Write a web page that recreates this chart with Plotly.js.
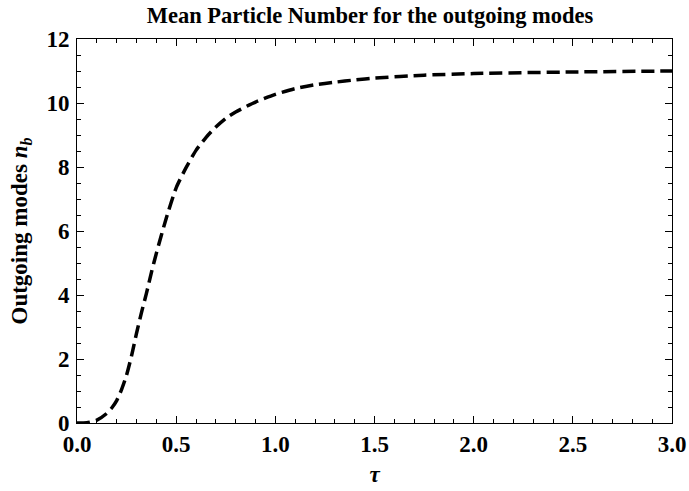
<!DOCTYPE html>
<html>
<head>
<meta charset="utf-8">
<script src="https://cdn.plot.ly/plotly-3.0.1.min.js"></script>
<style>html,body{margin:0;padding:0;background:#fff;}</style>
</head>
<body>
<div id="chart" style="width:689px;height:491px;"></div>
<script>
const tau = [0, 0.05, 0.1, 0.15, 0.175, 0.2, 0.225, 0.25, 0.275, 0.3, 0.325, 0.35, 0.375, 0.4, 0.45, 0.5, 0.55, 0.6, 0.65, 0.7, 0.75, 0.8, 0.9, 1.0, 1.1, 1.2, 1.3, 1.4, 1.5, 1.75, 2.0, 2.5, 3.0];
const nb = [0, 0.01, 0.09, 0.3, 0.47, 0.7, 1.05, 1.5, 2.1, 2.8, 3.45, 4.05, 4.7, 5.3, 6.4, 7.35, 7.98, 8.52, 8.92, 9.25, 9.52, 9.72, 10.03, 10.27, 10.45, 10.57, 10.65, 10.72, 10.78, 10.87, 10.92, 10.97, 11.0];
const xTicks = [0, 0.5, 1.0, 1.5, 2.0, 2.5, 3.0];
const yTicks = [0, 2, 4, 6, 8, 10, 12];

const serif = 'Liberation Serif, Times New Roman, serif';

const trace = {
  x: tau, y: nb, type: 'scatter', mode: 'lines',
  line: {color: '#000', width: 3.5, dash: '13px,6px', shape: 'spline', smoothing: 0.6},
  hoverinfo: 'skip'
};

const axisCommon = {
  showline: true, linecolor: '#000', linewidth: 1, mirror: 'allticks',
  ticks: 'inside', ticklen: 7, tickwidth: 1, tickcolor: '#000',
  showgrid: false, zeroline: false,
  tickfont: {family: serif, size: 23, color: '#000', weight: 'bold'}
};

const layout = {
  width: 689, height: 491,
  margin: {l: 77, r: 17, t: 39, b: 68},
  paper_bgcolor: '#fff', plot_bgcolor: '#fff',
  showlegend: false,
  title: {
    text: 'Mean Particle Number for the outgoing modes',
    font: {family: serif, size: 22.5, color: '#000', weight: 'bold'},
    x: 0.537, xanchor: 'center', y: 0.97, yanchor: 'middle'
  },
  xaxis: Object.assign({}, axisCommon, {
    range: [0, 3], tickvals: xTicks, ticktext: xTicks.map(v => v.toFixed(1)),
    minor: {dtick: 0.1, tick0: 0, ticks: 'inside', ticklen: 4, tickwidth: 1, tickcolor: '#000', showgrid: false},
    title: {text: '<i>τ</i>', font: {family: serif, size: 23, color: '#000', weight: 'bold'}, standoff: 10}
  }),
  yaxis: Object.assign({}, axisCommon, {
    range: [0, 12], tickvals: yTicks, ticktext: yTicks.map(v => String(v)),
    minor: {dtick: 0.5, tick0: 0, ticks: 'inside', ticklen: 4, tickwidth: 1, tickcolor: '#000', showgrid: false},
    ticklabelstandoff: 2,
    title: {text: 'Outgoing modes <i>n</i><sub><i>b</i></sub>', font: {family: serif, size: 23, color: '#000', weight: 'bold'}, standoff: 12}
  })
};

Plotly.newPlot('chart', [trace], layout, {displayModeBar: false, staticPlot: true});
</script>
</body>
</html>
